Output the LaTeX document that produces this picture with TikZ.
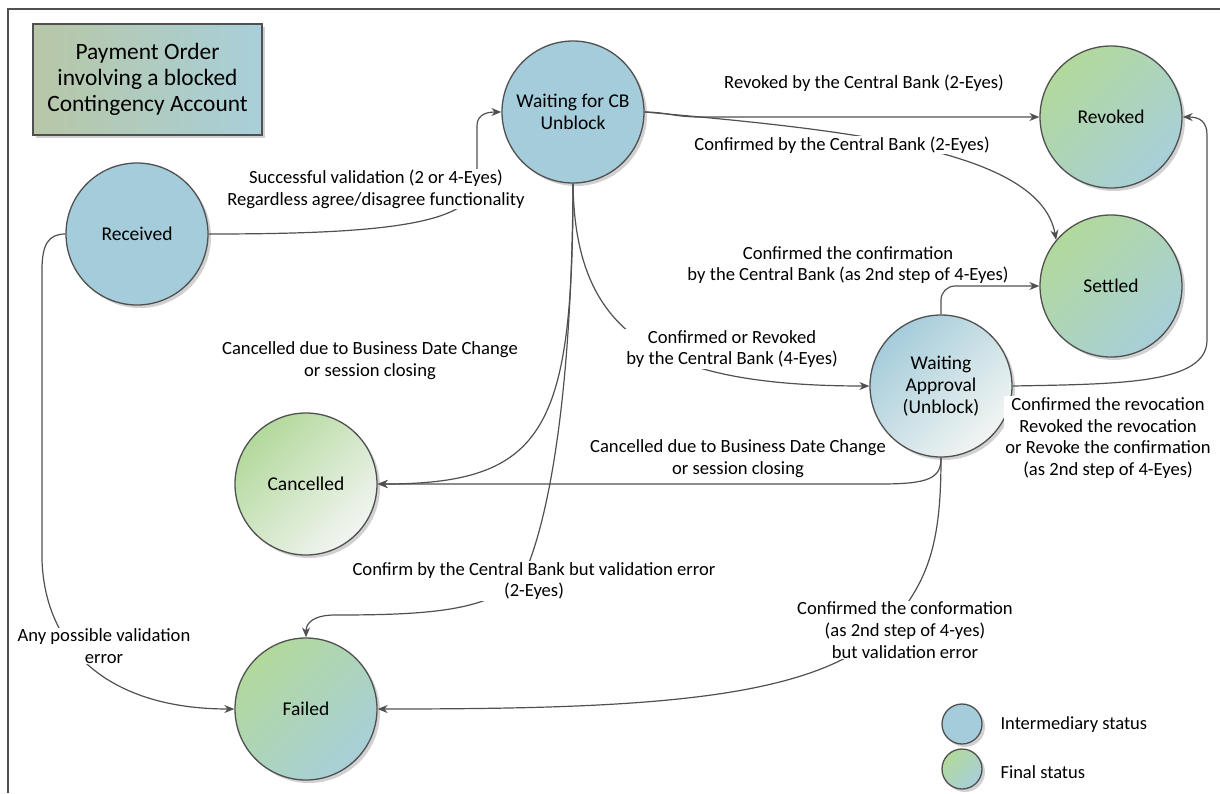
\documentclass[tikz,border=0pt]{standalone}
\usepackage{fontspec}
\setmainfont{Carlito}
\usetikzlibrary{arrows.meta,shadows}
\definecolor{edgec}{HTML}{505050}
\definecolor{blueA}{HTML}{A5CCDA}
\definecolor{blueB}{HTML}{A8CFD9}
\definecolor{greenA}{HTML}{B2D99B}
\definecolor{paleW}{HTML}{F2F5F2}
\definecolor{titleL}{HTML}{B8C7A6}
\definecolor{titleR}{HTML}{A8CFDA}
\begin{document}
\begin{tikzpicture}[x=1pt,y=-1pt,
  state/.style={circle,minimum size=142pt,inner sep=0pt,draw=edgec,line width=1.3pt,
    font=\fontsize{19.5}{22}\selectfont,align=center,
    drop shadow={shadow xshift=3pt,shadow yshift=-3pt,fill=black!18,opacity=1}},
  istate/.style={state,fill=blueA},
  fstate/.style={state,left color=greenA,right color=blueB,shading angle=45},
  fpale/.style={state,left color=greenA,right color=paleW,shading angle=45},
  ipale/.style={state,left color=blueA,right color=paleW,shading angle=45},
  conn/.style={draw=edgec,line width=1.2pt,-{Stealth[length=10pt,width=8pt]}},
  lab/.style={fill=white,inner sep=1pt,align=center,font=\fontsize{18.6}{21.8}\selectfont},
  legc/.style={circle,minimum size=40pt,inner sep=0pt,draw=edgec,line width=1.3pt,
    drop shadow={shadow xshift=3pt,shadow yshift=-3pt,fill=black!18,opacity=1}}
]
\useasboundingbox (0,0) rectangle (1220,793);
\fill[white] (0,0) rectangle (1220,793);
\draw[draw=edgec,line width=1.2pt] (8,793) -- (8,9) -- (1220,9);

% title
\node[draw=edgec,line width=1.2pt,left color=titleL,right color=titleR,
  minimum width=229pt,minimum height=111pt,align=center,
  font=\fontsize{23.4}{26}\selectfont,
  drop shadow={shadow xshift=3pt,shadow yshift=-3pt,fill=black!18,opacity=1}]
  (title) at (147.5,79.5) {Payment Order\\involving a blocked\\Contingency Account};

% states
\node[istate] (rec) at (137,234) {Received};
\node[istate] (wcb) at (573,112) {Waiting for CB\\Unblock};
\node[fstate] (rev) at (1111,117) {Revoked};
\node[fstate] (set) at (1111,286) {Settled};
\node[ipale] (wa) at (941,386) {Waiting\\Approval\\(Unblock)};
\node[fpale] (can) at (306,484) {Cancelled};
\node[fstate] (fai) at (306,709) {Failed};

% legend
\node[legc,fill=blueA] (lg1) at (962,724) {};
\node[legc,left color=greenA,right color=blueB,shading angle=45] (lg2) at (962,769) {};
\node[anchor=west,font=\fontsize{18.5}{20}\selectfont] (lt1) at (997,725) {Intermediary status};
\node[anchor=west,font=\fontsize{18.5}{20}\selectfont] (lt2) at (997,772) {Final status};

% connectors
\draw[conn] (rec.east) .. controls (380,234) and (477,225) .. (477,180) -- (477,126)
   .. controls (477,117) and (483,112) .. (wcb.west);
\draw[conn] (rec.west) .. controls (48,234) and (42,245) .. (42,270) -- (42,560)
   .. controls (45,650) and (110,709) .. (fai.west);
\draw[conn] (wcb.east) .. controls (665,112) and (675,117) .. (700,117) -- (rev.west);
\draw[conn] (wcb.east) .. controls (850,130) and (1040,150) .. (set.140);
\draw[conn] (wcb.south) .. controls (573,430) and (545,484) .. (can.east);
\draw[conn] (wcb.south) .. controls (572,380) and (552,500) .. (530,560)
   .. controls (510,610) and (440,615) .. (335,615) .. controls (315,615) and (306,622) .. (fai.north);
\draw[conn] (wcb.south) .. controls (575,330) and (650,386) .. (wa.west);
\draw[conn,rounded corners=14pt] (wa.north) -- (941,286) -- (set.west);
\draw[conn] (wa.east) .. controls (1120,384) and (1207,384) .. (1207,340) -- (1207,135)
   .. controls (1207,122) and (1200,117) .. (rev.east);
\draw[conn] (wa.south) .. controls (941,478) and (930,484) .. (880,484) -- (can.east);
\draw[conn] (wa.south) .. controls (941,540) and (930,580) .. (890,625)
   .. controls (820,700) and (650,709) .. (fai.east);

% labels
\node[lab] (l1) at (864,83) {Revoked by the Central Bank (2-Eyes)};
\node[lab] (l2) at (842,145) {Confirmed by the Central Bank (2-Eyes)};
\node[lab] (l3) at (376,189) {Successful validation (2 or 4-Eyes)\\Regardless agree/disagree functionality};
\node[lab] (l4) at (370,361) {Cancelled due to Business Date Change\\or session closing};
\node[lab] (l5) at (848,265) {Confirmed the confirmation\\by the Central Bank (as 2nd step of 4-Eyes)};
\node[lab] (l6) at (732,349) {Confirmed or Revoked\\by the Central Bank (4-Eyes)};
\node[lab] (l7) at (1108,438) {Confirmed the revocation\\Revoked the revocation\\or Revoke the confirmation\\(as 2nd step of 4-Eyes)};
\node[lab] (l8) at (738,459) {Cancelled due to Business Date Change\\or session closing};
\node[lab] (l9) at (534,581) {Confirm by the Central Bank but validation error\\(2-Eyes)};
\node[lab] (l10) at (905,630) {Confirmed the conformation\\(as 2nd step of 4-yes)\\but validation error};
\node[lab] (l11) at (104,646) {Any possible validation\\error};
\end{tikzpicture}
\end{document}
